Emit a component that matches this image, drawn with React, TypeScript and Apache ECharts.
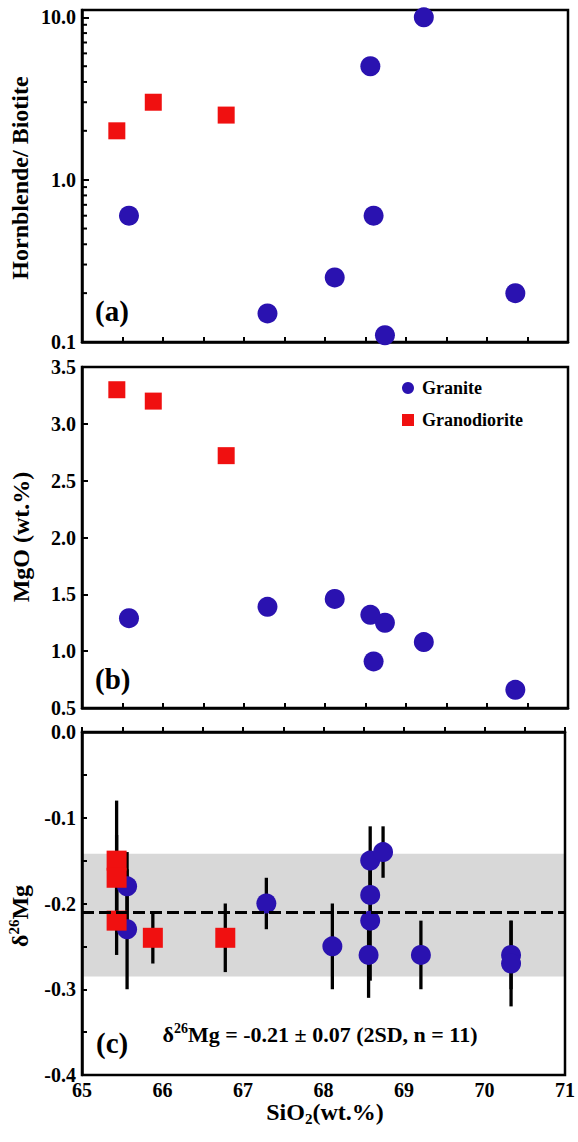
import React, { useEffect, useRef } from 'react';
import * as echarts from 'echarts';

// ---- data ----
const graniteSiO2 = [65.58, 67.29, 68.12, 68.56, 68.6, 68.74, 69.22, 70.35];
const graniteHbBt = [0.6, 0.15, 0.25, 5.0, 0.6, 0.11, 10.0, 0.2];
const graniteMgO = [1.29, 1.39, 1.46, 1.32, 0.91, 1.25, 1.08, 0.66];

const granodioriteSiO2 = [65.43, 65.88, 66.78];
const granodioriteHbBt = [2.0, 3.0, 2.5];
const granodioriteMgO = [3.3, 3.2, 2.72];

const graniteMgSiO2 = [65.56, 65.56, 67.29, 68.11, 68.58, 68.58, 68.58, 68.56, 68.74, 69.21, 70.33, 70.33];
const graniteD26Mg = [-0.18, -0.23, -0.2, -0.25, -0.15, -0.19, -0.22, -0.26, -0.14, -0.26, -0.26, -0.27];
const graniteD26Err = [0.04, 0.07, 0.03, 0.05, 0.04, 0.04, 0.07, 0.05, 0.03, 0.04, 0.04, 0.05];

const granodioriteMgSiO2 = [65.43, 65.43, 65.43, 65.88, 66.78];
const granodioriteD26Mg = [-0.15, -0.17, -0.22, -0.24, -0.24];
const granodioriteD26Err = [0.07, 0.05, 0.04, 0.03, 0.04];

const logMinorTicks = [0.2, 0.3, 0.4, 0.5, 0.6, 0.7, 0.8, 0.9, 2, 3, 4, 5, 6, 7, 8, 9];
const d26Mean = -0.21;
const d26BandLow = -0.285;
const d26BandHigh = -0.142;

const BLUE = '#2a12b0';
const RED = '#f01010';
const FONT = "'Liberation Serif', 'Times New Roman', serif";

const xAxisBase = (gridIndex: number, showLabels: boolean) => ({
  type: 'value',
  gridIndex,
  min: 65,
  max: 71,
  interval: 0.5,
  axisLine: { show: true, lineStyle: { color: '#000', width: 2.5 } },
  axisTick: { show: true, inside: true, length: 5, lineStyle: { color: '#000', width: 2 } },
  splitLine: { show: false },
  axisLabel: {
    show: showLabels,
    margin: 5,
    color: '#000',
    fontFamily: FONT,
    fontWeight: 'bold',
    fontSize: 20,
    formatter: (v: number) => (Math.abs(v - Math.round(v)) < 1e-6 ? String(Math.round(v)) : ''),
  },
});

const yLabelStyle = {
  margin: 6,
  color: '#000',
  fontFamily: FONT,
  fontWeight: 'bold',
  fontSize: 20,
};

export default function App() {
  const ref = useRef<HTMLDivElement>(null);

  useEffect(() => {
    document.body.style.margin = '0';
    if (!ref.current) return;
    const chart = echarts.init(ref.current, undefined, { renderer: 'svg' });

    const errData = (xs: number[], ys: number[], es: number[]) =>
      xs.map((x, i) => [x, ys[i] - es[i], ys[i] + es[i]]);

    const errRender = (params: any, api: any) => {
      const x = api.value(0);
      const p1 = api.coord([x, api.value(1)]);
      const p2 = api.coord([x, api.value(2)]);
      return {
        type: 'line',
        shape: { x1: p1[0], y1: p1[1], x2: p2[0], y2: p2[1] },
        style: { stroke: '#000', lineWidth: 3.3 },
      };
    };

    const blueStyle = { color: BLUE, opacity: 1 };
    const redStyle = { color: RED, opacity: 1 };

    const option: any = {
      animation: false,
      grid: [
        { left: 82, top: 10, width: 486, height: 332, show: true, borderColor: '#000', borderWidth: 2.5, backgroundColor: 'transparent' },
        { left: 82, top: 367, width: 486, height: 341, show: true, borderColor: '#000', borderWidth: 2.5, backgroundColor: 'transparent' },
        { left: 82, top: 732, width: 486, height: 343, show: true, borderColor: '#000', borderWidth: 2.5, backgroundColor: 'transparent', z: 3 },
      ],
      xAxis: [xAxisBase(0, false), xAxisBase(1, false), { ...xAxisBase(2, true), z: 3 }],
      yAxis: [
        {
          type: 'log',
          logBase: 10,
          gridIndex: 0,
          min: 0.1,
          max: 11.1,
          axisLine: { show: true, lineStyle: { color: '#000', width: 2.5 } },
          axisTick: { show: true, inside: true, length: 7, lineStyle: { color: '#000', width: 2 } },
          minorTick: { show: false },
          splitLine: { show: false },
          axisLabel: {
            ...yLabelStyle,
            formatter: (v: number) => {
              const l = Math.log10(v);
              return Math.abs(l - Math.round(l)) < 1e-6 ? v.toFixed(1) : '';
            },
          },
        },
        {
          type: 'value',
          gridIndex: 1,
          min: 0.5,
          max: 3.5,
          interval: 0.5,
          axisLine: { show: true, lineStyle: { color: '#000', width: 2.5 } },
          axisTick: { show: true, inside: true, length: 6, lineStyle: { color: '#000', width: 2 } },
          splitLine: { show: false },
          axisLabel: { ...yLabelStyle, formatter: (v: number) => v.toFixed(1) },
        },
        {
          type: 'value',
          gridIndex: 2,
          min: -0.4,
          max: 0,
          interval: 0.05,
          z: 3,
          axisLine: { show: true, lineStyle: { color: '#000', width: 2.5 } },
          axisTick: { show: true, inside: true, length: 5, lineStyle: { color: '#000', width: 2 } },
          splitLine: { show: false },
          axisLabel: {
            ...yLabelStyle,
            formatter: (v: number) => (Math.abs(v * 10 - Math.round(v * 10)) < 1e-6 ? (Math.abs(v) < 1e-9 ? '0.0' : v.toFixed(1)) : ''),
          },
        },
      ],
      legend: {
        show: true,
        orient: 'vertical',
        left: 402,
        top: 379,
        padding: 0,
        itemGap: 14,
        itemWidth: 12,
        itemHeight: 12,
        selectedMode: false,
        textStyle: { color: '#000', fontFamily: FONT, fontWeight: 'bold', fontSize: 18, padding: [0, 0, 0, 3] },
        data: [
          { name: 'Granite', icon: 'circle', itemStyle: { opacity: 1 } },
          { name: 'Granodiorite', icon: 'rect', itemStyle: { opacity: 1 } },
        ],
      },
      series: [
        // panel (a)
        {
          type: 'custom',
          name: 'minorTicksA',
          xAxisIndex: 0,
          yAxisIndex: 0,
          silent: true,
          data: logMinorTicks.map((v) => [65, v]),
          encode: { x: 0, y: 1 },
          renderItem: (params: any, api: any) => {
            const p = api.coord([api.value(0), api.value(1)]);
            return {
              type: 'line',
              shape: { x1: p[0], y1: p[1], x2: p[0] + 5, y2: p[1] },
              style: { stroke: '#000', lineWidth: 2 },
            };
          },
        },
        {
          type: 'scatter',
          name: 'Granite',
          xAxisIndex: 0,
          yAxisIndex: 0,
          symbol: 'circle',
          symbolSize: 20,
          itemStyle: blueStyle,
          data: graniteSiO2.map((x, i) => [x, graniteHbBt[i]]),
        },
        {
          type: 'scatter',
          name: 'Granodiorite',
          xAxisIndex: 0,
          yAxisIndex: 0,
          symbol: 'rect',
          symbolSize: 17,
          itemStyle: redStyle,
          data: granodioriteSiO2.map((x, i) => [x, granodioriteHbBt[i]]),
        },
        // panel (b)
        {
          type: 'scatter',
          name: 'Granite',
          xAxisIndex: 1,
          yAxisIndex: 1,
          symbol: 'circle',
          symbolSize: 20,
          itemStyle: blueStyle,
          data: graniteSiO2.map((x, i) => [x, graniteMgO[i]]),
        },
        {
          type: 'scatter',
          name: 'Granodiorite',
          xAxisIndex: 1,
          yAxisIndex: 1,
          symbol: 'rect',
          symbolSize: 17,
          itemStyle: redStyle,
          data: granodioriteSiO2.map((x, i) => [x, granodioriteMgO[i]]),
        },
        // panel (c)
        {
          type: 'custom',
          name: 'errGranite',
          xAxisIndex: 2,
          yAxisIndex: 2,
          silent: true,
          data: errData(graniteMgSiO2, graniteD26Mg, graniteD26Err),
          encode: { x: 0, y: [1, 2] },
          renderItem: errRender,
          markArea: {
            silent: true,
            itemStyle: { color: '#d8d8d8', opacity: 1 },
            data: [[{ yAxis: d26BandLow }, { yAxis: d26BandHigh }]],
          },
          markLine: {
            silent: true,
            symbol: 'none',
            label: { show: false },
            lineStyle: { color: '#000', width: 3, type: [12, 5], opacity: 1 },
            data: [{ yAxis: d26Mean }],
          },
        },
        {
          type: 'custom',
          name: 'errGranodiorite',
          xAxisIndex: 2,
          yAxisIndex: 2,
          silent: true,
          data: errData(granodioriteMgSiO2, granodioriteD26Mg, granodioriteD26Err),
          encode: { x: 0, y: [1, 2] },
          renderItem: errRender,
        },
        {
          type: 'scatter',
          name: 'Granite',
          xAxisIndex: 2,
          yAxisIndex: 2,
          symbol: 'circle',
          symbolSize: 20,
          itemStyle: blueStyle,
          data: graniteMgSiO2.map((x, i) => [x, graniteD26Mg[i]]),
        },
        {
          type: 'scatter',
          name: 'Granodiorite',
          xAxisIndex: 2,
          yAxisIndex: 2,
          symbol: 'rect',
          symbolSize: 20,
          itemStyle: redStyle,
          data: granodioriteMgSiO2.map((x, i) => [x, granodioriteD26Mg[i]]),
        },
      ],
      graphic: [
        {
          type: 'text',
          x: 20,
          y: 178,
          rotation: Math.PI / 2,
          style: { text: 'Hornblende/ Biotite', fill: '#000', fontFamily: FONT, fontWeight: 'bold', fontSize: 24, align: 'center', verticalAlign: 'middle' },
        },
        {
          type: 'text',
          x: 21,
          y: 537,
          rotation: Math.PI / 2,
          style: { text: 'MgO (wt.%)', fill: '#000', fontFamily: FONT, fontWeight: 'bold', fontSize: 24, align: 'center', verticalAlign: 'middle' },
        },
        {
          type: 'text',
          x: 20,
          y: 916,
          rotation: Math.PI / 2,
          style: {
            text: '{a|δ}{s|26}{a|Mg}',
            fill: '#000',
            align: 'center',
            verticalAlign: 'middle',
            rich: {
              a: { fontFamily: FONT, fontWeight: 'bold', fontSize: 24, lineHeight: 28, fill: '#000' },
              s: { fontFamily: FONT, fontWeight: 'bold', fontSize: 15, lineHeight: 15, verticalAlign: 'top', fill: '#000' },
            },
          },
        },
        {
          type: 'text',
          x: 325,
          y: 1112,
          style: {
            text: '{a|SiO}{s|2}{a|(wt.%)}',
            fill: '#000',
            align: 'center',
            verticalAlign: 'middle',
            rich: {
              a: { fontFamily: FONT, fontWeight: 'bold', fontSize: 24, lineHeight: 28, fill: '#000' },
              s: { fontFamily: FONT, fontWeight: 'bold', fontSize: 15, lineHeight: 15, verticalAlign: 'bottom', fill: '#000' },
            },
          },
        },
        {
          type: 'text',
          x: 320,
          y: 1034,
          style: {
            text: '{a|δ}{s|26}{a|Mg = -0.21 ± 0.07 (2SD, n = 11)}',
            fill: '#000',
            align: 'center',
            verticalAlign: 'middle',
            rich: {
              a: { fontFamily: FONT, fontWeight: 'bold', fontSize: 22, lineHeight: 26, fill: '#000' },
              s: { fontFamily: FONT, fontWeight: 'bold', fontSize: 14, lineHeight: 14, verticalAlign: 'top', fill: '#000' },
            },
          },
        },
        {
          type: 'text',
          x: 95,
          y: 311,
          style: { text: '(a)', fill: '#000', fontFamily: FONT, fontWeight: 'bold', fontSize: 29, align: 'left', verticalAlign: 'middle' },
        },
        {
          type: 'text',
          x: 95,
          y: 679,
          style: { text: '(b)', fill: '#000', fontFamily: FONT, fontWeight: 'bold', fontSize: 29, align: 'left', verticalAlign: 'middle' },
        },
        {
          type: 'text',
          x: 96,
          y: 1043,
          style: { text: '(c)', fill: '#000', fontFamily: FONT, fontWeight: 'bold', fontSize: 29, align: 'left', verticalAlign: 'middle' },
        },
      ],
    };

    chart.setOption(option);
    return () => {
      chart.dispose();
    };
  }, []);

  return <div ref={ref} style={{ width: 578, height: 1142 }} />;
}
